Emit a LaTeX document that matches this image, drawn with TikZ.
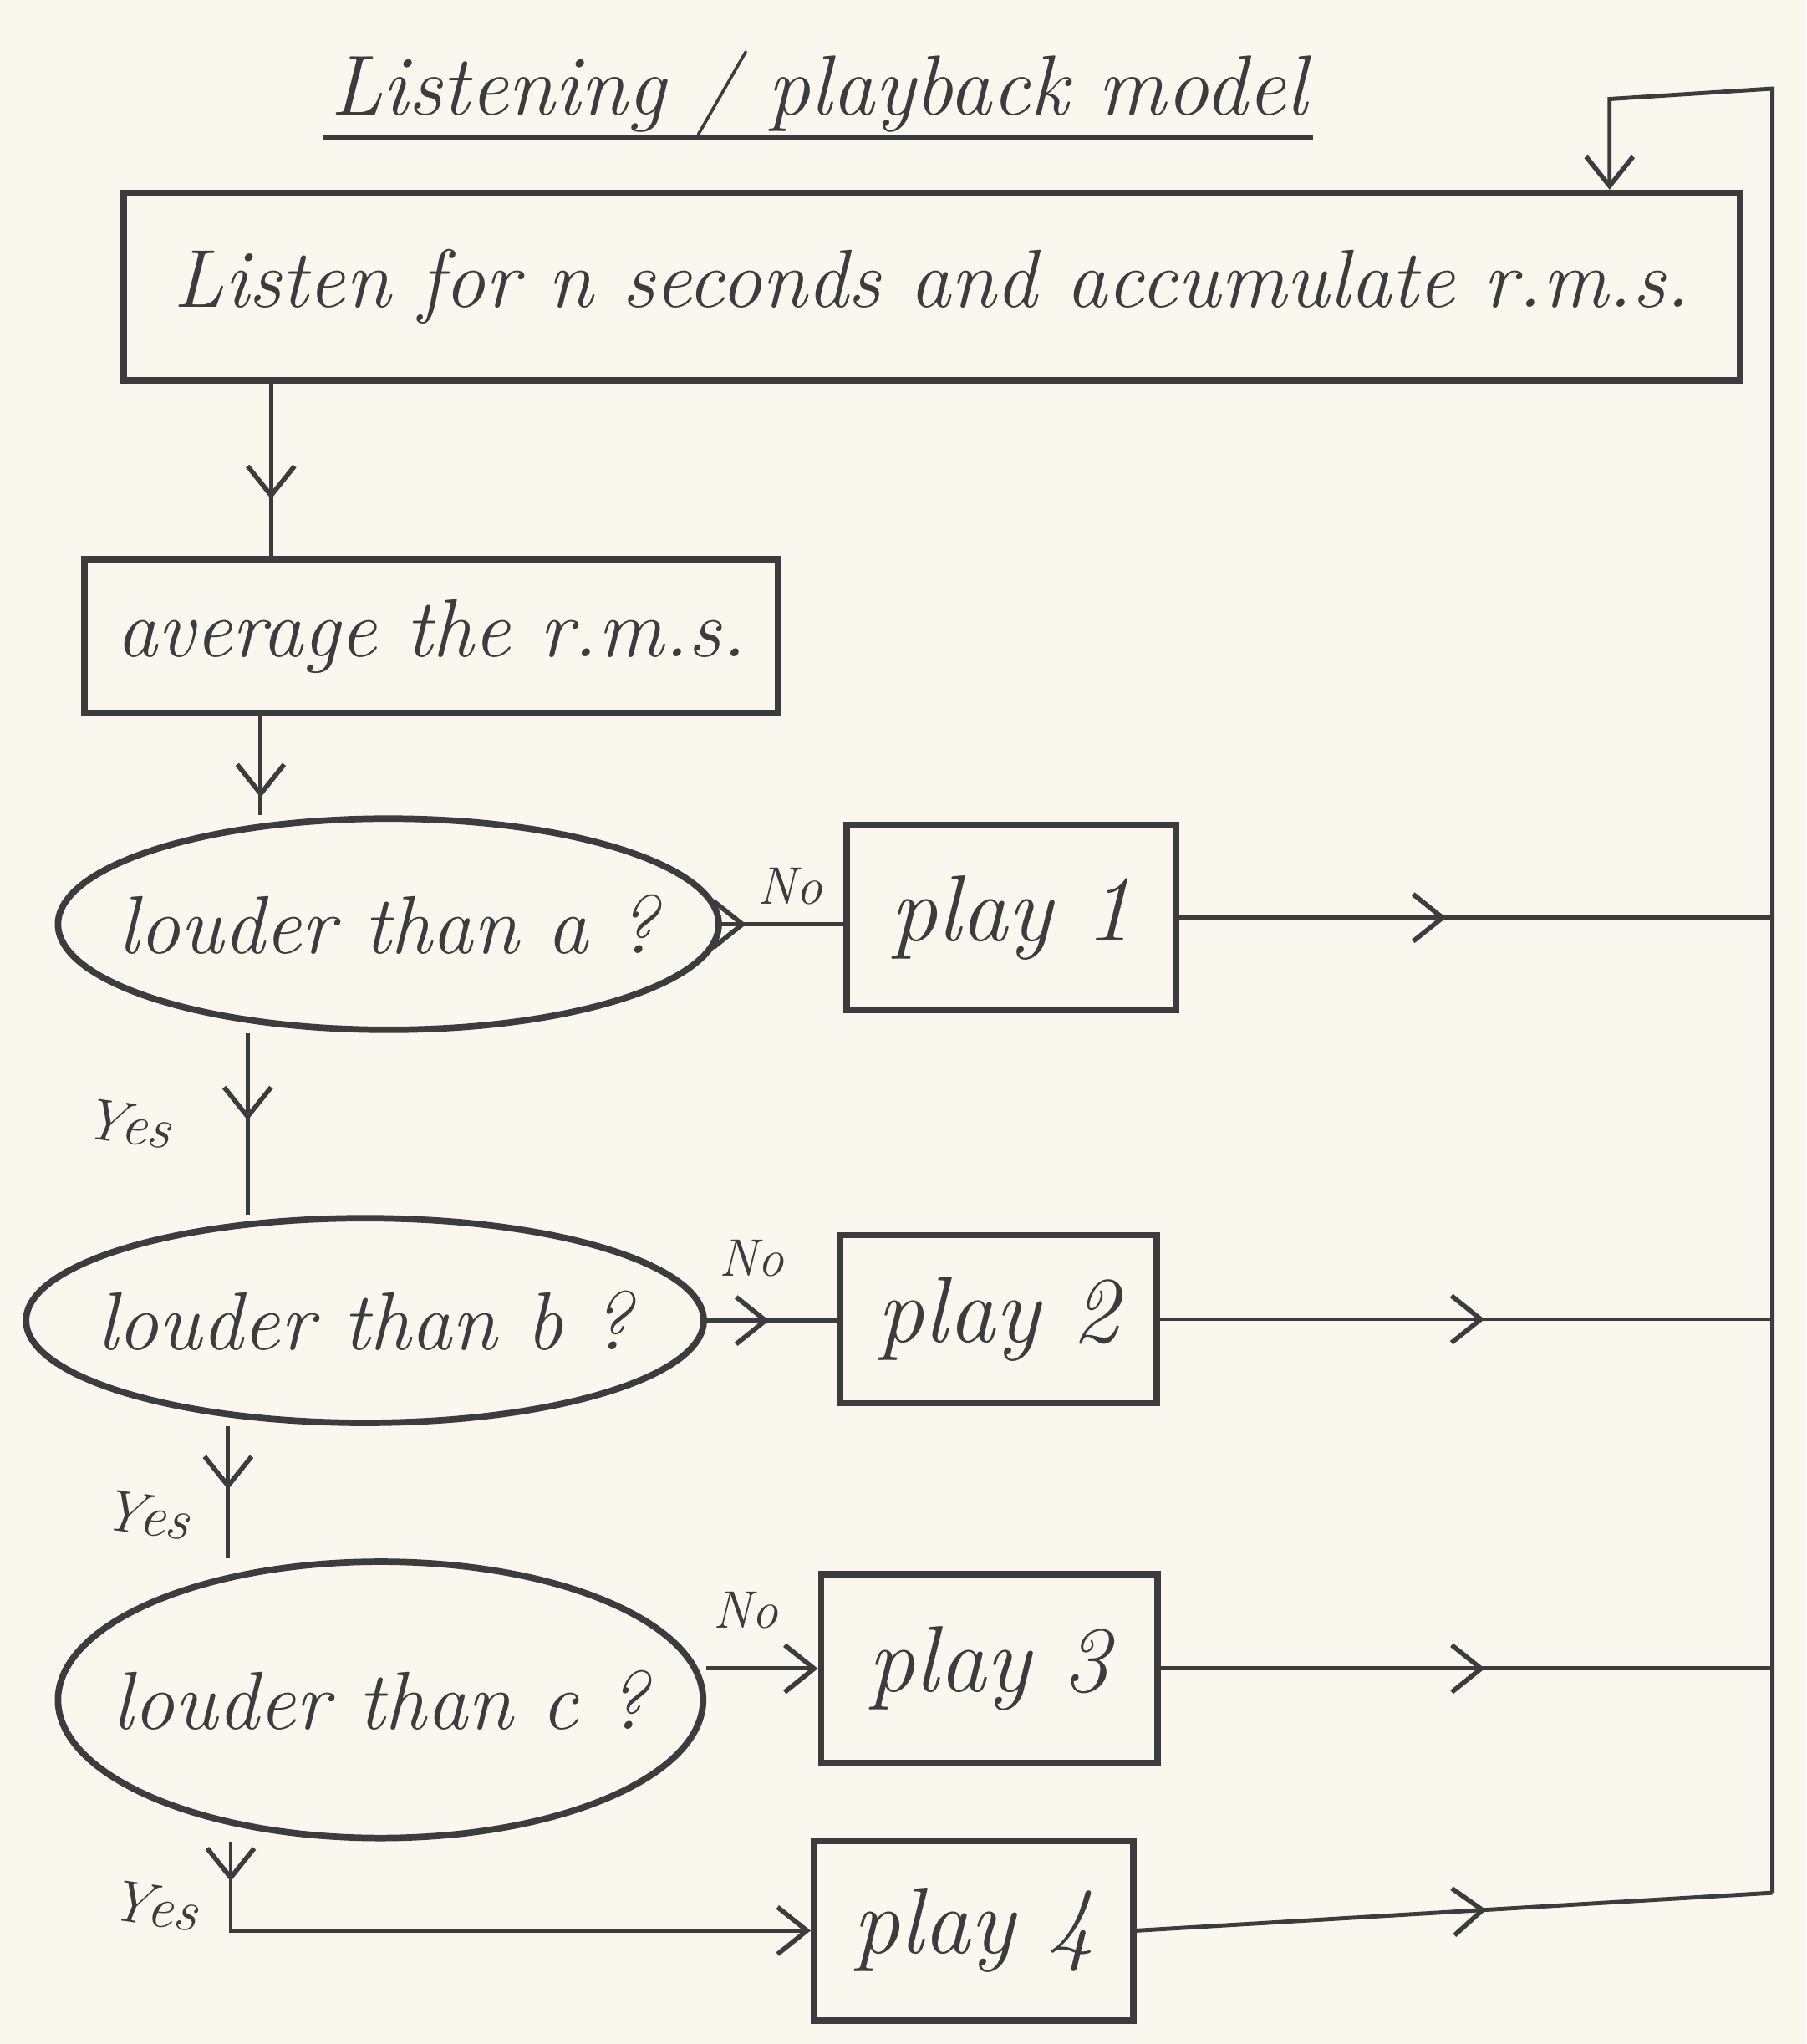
\documentclass[tikz,border=0pt]{standalone}
\usetikzlibrary{arrows.meta,decorations.markings,shapes.geometric}
\definecolor{ink}{HTML}{3C3C3E}
\definecolor{paper}{HTML}{FAF8EE}
\newcommand\upx{0.015592cm}
\begin{document}
\begin{tikzpicture}[x=0.015592cm, y=-0.015592cm,
  box/.style={draw=ink, line width=2.2pt, rectangle, inner sep=0pt, text=ink,
    font=\itshape\fontsize{28}{32}\selectfont},
  playbox/.style={box, font=\itshape\fontsize{32}{36}\selectfont},
  dec/.style={draw=ink, line width=2.2pt, ellipse, inner sep=0pt},
  dtext/.style={text=ink, inner sep=0pt, font=\itshape\fontsize{28}{32}\selectfont},
  conn/.style={draw=ink, line width=1.4pt},
  tipx/.style={-{Straight Barb[length=10pt,width=16pt,line width=1.6pt]}},
  midarrow/.style={postaction={decorate}, decoration={markings,
    mark=at position #1 with {\arrow[ink]{Straight Barb[length=10pt,width=16pt,line width=1.6pt]}}}},
  lab/.style={text=ink, font=\itshape\fontsize{18}{20}\selectfont, inner sep=1pt},
  ylab/.style={text=ink, font=\itshape\fontsize{20}{22}\selectfont, inner sep=1pt}]
\fill[paper] (0,0) rectangle (1386,1568);
\useasboundingbox (0,0) rectangle (1386,1568);

% title
\node[text=ink, font=\itshape\fontsize{29}{34}\selectfont, inner sep=2pt] (title) at (628,72) {Listening / playback model};
\draw[ink, line width=2pt] (title.south west) ++(0,-4) coordinate (ul1) -- (ul1 -| title.south east);

% nodes
\node[box, minimum width={1240*\upx}, minimum height={144*\upx}] (b1) at (715,220) {Listen for n seconds and accumulate r.m.s.};
\node[box, minimum width={532*\upx}, minimum height={118*\upx}] (b2) at (331,488) {average the r.m.s.};
\node[dec, minimum width={507*\upx}, minimum height={162*\upx}] (ea) at (298,709) {};
\node[dtext] (ta) at (ea.center) {louder than a ?};
\node[playbox, minimum width={253*\upx}, minimum height={142*\upx}] (p1) at (776,704) {play 1};
\node[dec, minimum width={520*\upx}, minimum height={157*\upx}] (eb) at (280,1013) {};
\node[dtext] (tb) at (eb.center) {louder than b ?};
\node[playbox, minimum width={243*\upx}, minimum height={129*\upx}] (p2) at (766,1012) {play 2};
\node[dec, minimum width={495*\upx}, minimum height={212*\upx}] (ec) at (292,1304) {};
\node[dtext] (tc) at (ec.center) {louder than c ?};
\node[playbox, minimum width={258*\upx}, minimum height={145*\upx}] (p3) at (759,1280) {play 3};
\node[playbox, minimum width={245*\upx}, minimum height={138*\upx}] (p4) at (747,1481) {play 4};

% column coordinates
\coordinate (c1) at (208,0);
\coordinate (c2) at (200,0);
\coordinate (c3) at (190,0);
\coordinate (c4) at (175,0);
\coordinate (c5) at (177,0);
\coordinate (rtop) at (1360,68);
\coordinate (ltop) at (1235,76);
\coordinate (r4) at (1360,1452);

% main flow
\draw[conn, midarrow=0.67] (b1.south -| c1) -- (b2.north -| c1);
\draw[conn, midarrow=0.82] (b2.south -| c2) -- (ea.north -| c2);
\draw[conn, midarrow=0.48] (ea.south -| c3) -- (eb.north -| c3);
\draw[conn, midarrow=0.48] (eb.south -| c4) -- (ec.north -| c4);
\draw[conn, midarrow=0.06, tipx] (ec.south -| c5) -- (c5 |- p4.west) -- (p4.west);

% No branches
\draw[conn, midarrow=0.2] (ea.east) -- (p1.west |- ea.east);
\draw[conn, midarrow=0.48] (eb.east) -- (p2.west |- eb.east);
\draw[conn, tipx] (ec.east |- p3.west) -- (p3.west);

% returns to the right-hand line
\draw[conn, midarrow=0.45] (p1.east) -- (p1.east -| rtop);
\draw[conn, midarrow=0.53] (p2.east) -- (p2.east -| rtop);
\draw[conn, midarrow=0.53] (p3.east) -- (p3.east -| rtop);
\draw[conn, midarrow=0.55] (p4.east) -- (r4);
\draw[conn, tipx] (r4) -- (rtop) -- (ltop) -- (b1.north -| ltop);

% labels
\node[lab] (no1) at (606,680) {No};
\node[lab] (no2) at (577,965) {No};
\node[lab] (no3) at (572,1235) {No};
\node[ylab, rotate=-8] (y1) at (98,862) {Yes};
\node[ylab, rotate=-8] (y2) at (112,1162) {Yes};
\node[ylab, rotate=-8] (y3) at (118,1462) {Yes};
\end{tikzpicture}
\end{document}
